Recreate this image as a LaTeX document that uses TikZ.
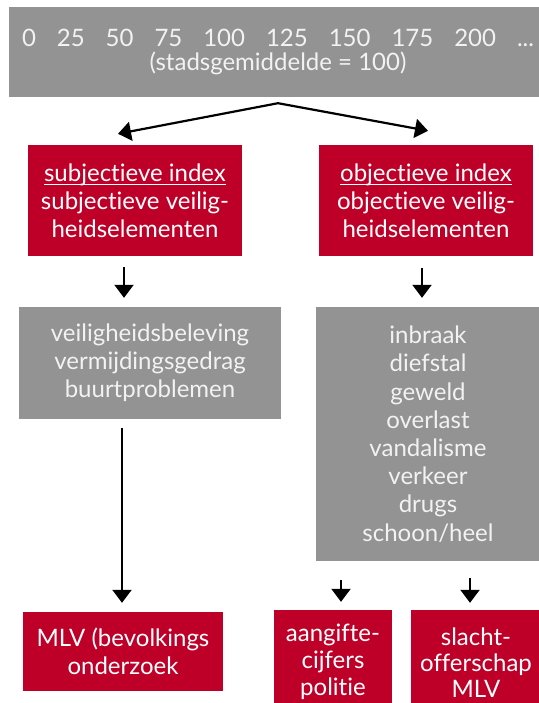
\documentclass[tikz,border=0pt]{standalone}
\usepackage{fontspec}
\setmainfont{Lato}[Ligatures=NoCommon]
\usetikzlibrary{positioning}
\usetikzlibrary{calc}
\usetikzlibrary{arrows.meta}
\definecolor{vred}{HTML}{BE0029}
\definecolor{vgrey}{HTML}{939393}
\tikzset{
box/.style={inner sep=0pt, align=center, text=white, font=\fontsize{24}{28.2}\selectfont},
redbox/.style={box, fill=vred},
greybox/.style={box, fill=vgrey, text=white!95!black},
arr/.style={line width=2.2pt, -{Triangle[length=13pt,width=19pt]}}
}
\newcommand\idxul[1]{\setbox0\hbox{#1}\rlap{\rule[-3.5pt]{\wd0}{1pt}}\box0}
\begin{document}
\begin{tikzpicture}[x=1pt,y=-1pt]
\useasboundingbox (0,0) rectangle (538,703);
\node[greybox, minimum width=538pt, minimum height=90pt] (idx) at (278,52)
  {\makebox[512pt]{0\hfill 25\hfill 50\hfill 75\hfill 100\hfill 125\hfill 150\hfill 175\hfill 200\hfill ...}\\[-3.5pt](stadsgemiddelde = 100)};
\node[redbox, minimum width=214pt, minimum height=111pt] (subj) at (135,200.5)
  {\idxul{subjectieve index}\\subjectieve veilig-\\heidselementen};
\node[redbox, minimum width=214pt, minimum height=111pt] (obj) at (426,200.5)
  {\idxul{objectieve index}\\objectieve veilig-\\heidselementen};
\node[greybox, minimum width=262pt, minimum height=112pt] (bel) at (150,363)
  {veiligheidsbeleving\\vermijdingsgedrag\\buurtproblemen};
\node[greybox, minimum width=224pt, minimum height=254pt] (objl) at (428,434)
  {inbraak\\diefstal\\geweld\\overlast\\vandalisme\\verkeer\\drugs\\schoon/heel};
\node[redbox, minimum width=200pt, minimum height=79pt] (mlv) at (123,651.5)
  {MLV (bevolkings\\onderzoek};
\node[redbox, minimum width=118pt, minimum height=103pt] (aang) at (333,661.5)
  {aangifte-\\[-1pt]cijfers\\[-1pt]politie};
\node[redbox, minimum width=130pt, minimum height=105pt] (slo) at (476,662.5)
  {slacht-\\[-2.5pt]offerschap\\[-2.5pt]MLV};
% splitsing onder de schaal
\coordinate (split) at ($(idx.south)+(0,6)$);
\coordinate (subjin) at ($(subj.north)+(-17,-11)$);
\coordinate (objin) at ($(obj.north)+(2,-14)$);
\draw[arr] (split) -- (subjin);
\draw[arr] (split) -- (objin);
\draw[arr] ($(subj.south)+(-11,11)$) -- ($(bel.north)+(-26,-9)$);
\draw[arr] ($(obj.south)+(-4,12)$) -- ($(objl.north)+(-6,-9)$);
\draw[arr] ($(bel.south)+(-28,9)$) -- ($(mlv.north)+(-1,-9)$);
\draw[arr] ($(objl.south)+(-87,19)$) -- ($(aang.north)+(8,-8)$);
\draw[arr] ($(objl.south)+(42,17)$) -- ($(slo.north)+(-6,-7)$);
\end{tikzpicture}
\end{document}
